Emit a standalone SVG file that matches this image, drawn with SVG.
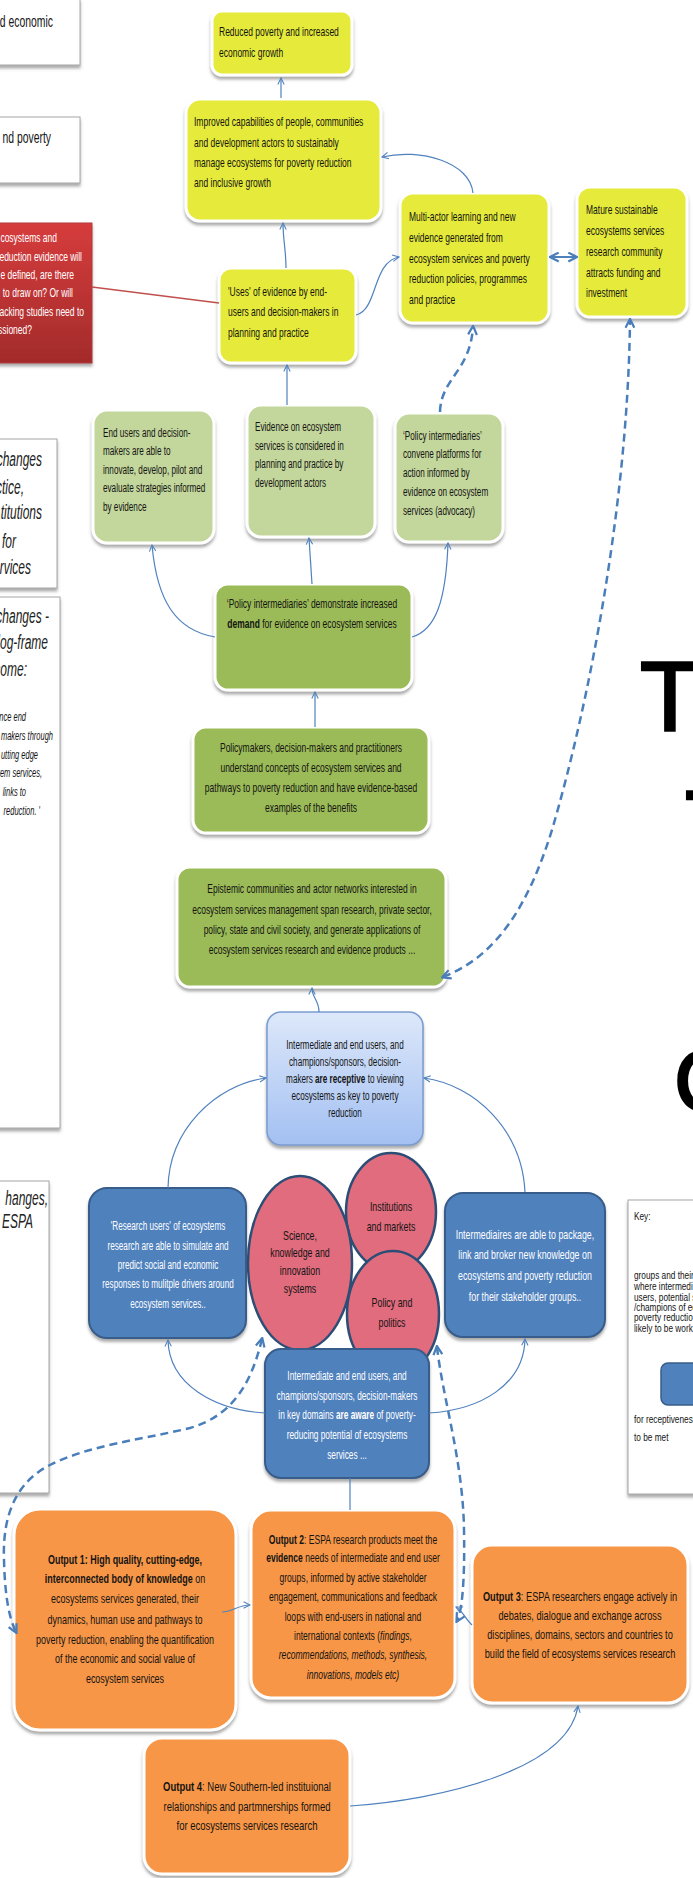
<svg xmlns="http://www.w3.org/2000/svg" width="693" height="1878" viewBox="0 0 693 1878">
<defs>
<style>
.tx{font-family:"Liberation Sans",Arial,sans-serif;font-size:12.5px;fill:#141414}
.sm{font-size:12px}
.w{fill:#fff}
.b{font-weight:bold}
.i{font-style:italic}
.c{text-anchor:middle}
.e{text-anchor:end}
.lg{font-size:20px;font-style:italic;fill:#222}
.big{font-family:"Liberation Sans",Arial,sans-serif;fill:#000;stroke:#000;stroke-width:2.5}
.ny{fill:#e6eb3b;stroke:#fff;stroke-width:3;filter:url(#sh)}
.ng1{fill:#c3d69b;stroke:#fff;stroke-width:3;filter:url(#sh)}
.ng2{fill:#9bbb59;stroke:#fff;stroke-width:3;filter:url(#sh)}
.no{fill:#f79646;stroke:#fff;stroke-width:3;filter:url(#sh)}
.nb{fill:#4f81bd;stroke:#385d8a;stroke-width:2;filter:url(#sh)}
.el{fill:#e06c7d;stroke:#2c4d75;stroke-width:2.5}
.bx{fill:#fff;stroke:#a6a6a6;stroke-width:1;filter:url(#sh)}
.cn{fill:none;stroke:#4f81bd;stroke-width:1.2}
.cd{fill:none;stroke:#4a7ebb;stroke-width:2.5;stroke-dasharray:8 5}
</style>
<filter id="sh" x="-10%" y="-10%" width="125%" height="130%"><feDropShadow dx="0" dy="3" stdDeviation="1.5" flood-color="#666" flood-opacity="0.55"/></filter>
<linearGradient id="gRed" x1="0" y1="0" x2="0" y2="1"><stop offset="0" stop-color="#d63c3c"/><stop offset="1" stop-color="#a32b2b"/></linearGradient>
<linearGradient id="gLb" x1="0" y1="0" x2="0" y2="1"><stop offset="0" stop-color="#dde8fa"/><stop offset="1" stop-color="#a3c0f2"/></linearGradient>
<marker id="ar" viewBox="0 0 10 10" refX="9" refY="5" markerWidth="8" markerHeight="8" markerUnits="userSpaceOnUse" orient="auto-start-reverse"><path d="M1,1 L9,5 L1,9" fill="none" stroke="#4f81bd" stroke-width="1.3"/></marker>
<marker id="ad" viewBox="0 0 10 10" refX="8" refY="5" markerWidth="11" markerHeight="11" markerUnits="userSpaceOnUse" orient="auto-start-reverse"><path d="M1,1 L9,5 L1,9" fill="none" stroke="#4a7ebb" stroke-width="2"/></marker>
</defs>
<rect x="0" y="0" width="693" height="1878" fill="#fff"/>

<!-- left cut-off boxes -->
<g id="box-a"><rect class="bx" x="-2" y="-1" width="82" height="66"/><text class="tx e" style="font-size:16px" transform="translate(53 0) scale(.65 1)"><tspan x="0" y="27">d economic</tspan></text></g>
<g id="box-b"><rect class="bx" x="-2" y="117" width="82" height="66"/><text class="tx e" style="font-size:16px" transform="translate(51 0) scale(.65 1)"><tspan x="0" y="143">nd poverty</tspan></text></g>
<g id="box-1"><rect class="bx" x="-2" y="439" width="59" height="149"/>
<text class="tx lg e" transform="translate(42 0) scale(.6 1)"><tspan x="0" y="466">changes</tspan></text>
<text class="tx lg e" transform="translate(24 0) scale(.6 1)"><tspan x="0" y="494">ctice,</tspan></text>
<text class="tx lg e" transform="translate(42 0) scale(.6 1)"><tspan x="0" y="519">titutions</tspan></text>
<text class="tx lg e" transform="translate(16 0) scale(.6 1)"><tspan x="0" y="548">for</tspan></text>
<text class="tx lg e" transform="translate(31 0) scale(.6 1)"><tspan x="0" y="574">rvices</tspan></text>
</g>
<g id="box-2"><rect class="bx" x="-2" y="597" width="62" height="531"/>
<text class="tx lg e" transform="translate(49 0) scale(.6 1)"><tspan x="0" y="623">changes -</tspan></text>
<text class="tx lg e" transform="translate(48 0) scale(.6 1)"><tspan x="0" y="649">log-frame</tspan></text>
<text class="tx lg e" transform="translate(27 0) scale(.6 1)"><tspan x="0" y="676">come:</tspan></text>
<text class="tx i e" transform="translate(26 0) scale(.6 1)"><tspan x="0" y="721">nce end</tspan></text>
<text class="tx i e" transform="translate(53 0) scale(.6 1)"><tspan x="0" y="740">makers through</tspan></text>
<text class="tx i e" transform="translate(38 0) scale(.6 1)"><tspan x="0" y="759">utting edge</tspan></text>
<text class="tx i e" transform="translate(42 0) scale(.6 1)"><tspan x="0" y="777">tem services,</tspan></text>
<text class="tx i e" transform="translate(26 0) scale(.6 1)"><tspan x="0" y="796">links to</tspan></text>
<text class="tx i e" transform="translate(40 0) scale(.6 1)"><tspan x="0" y="815">reduction. '</tspan></text>
</g>
<g id="box-3"><rect class="bx" x="-2" y="1181" width="51" height="312"/>
<text class="tx lg e" transform="translate(48 0) scale(.6 1)"><tspan x="0" y="1205">hanges,</tspan></text>
<text class="tx lg e" transform="translate(33 0) scale(.6 1)"><tspan x="0" y="1228">y ESPA</tspan></text>
</g>

<!-- key -->
<g id="key"><rect class="bx" x="628" y="1200" width="72" height="294"/>
<text class="tx" style="font-size:10.6px" transform="translate(634 0) scale(.78 1)"><tspan x="0" y="1220">Key:</tspan><tspan x="0" y="1279">groups and their</tspan><tspan x="0" y="1290">where intermedi</tspan><tspan x="0" y="1301">users, potential s</tspan><tspan x="0" y="1311">/champions of ec</tspan><tspan x="0" y="1321">poverty reductio</tspan><tspan x="0" y="1332">likely to be work</tspan><tspan x="0" y="1423">for receptiveness</tspan><tspan x="0" y="1441">to be met</tspan></text>
<rect x="661" y="1363" width="45" height="42" rx="7" fill="#4f81bd" stroke="#385d8a" stroke-width="1.5"/>
</g>

<!-- big letters -->
<g id="big-letters">
<text class="big" x="670" y="730" style="font-size:98px;text-anchor:middle">T</text>
<text class="big" x="715" y="859" style="font-size:98px;text-anchor:middle">T</text>
<text class="big" x="674" y="1111" style="font-size:88px">C</text>
</g>

<!-- yellow -->
<g id="n-reduced"><rect class="ny" x="212" y="11" width="140" height="64" rx="10"/><text class="tx" transform="translate(219 0) scale(.68 1)"><tspan x="0" y="36">Reduced poverty and increased</tspan><tspan x="0" y="57">economic growth</tspan></text></g>
<g id="n-improved"><rect class="ny" x="186" y="99" width="195" height="122" rx="14"/><text class="tx" transform="translate(194 0) scale(.68 1)"><tspan x="0" y="126">Improved capabilities of people, communities</tspan><tspan x="0" y="147">and development actors to sustainably</tspan><tspan x="0" y="167">manage ecosystems for poverty reduction</tspan><tspan x="0" y="187">and inclusive growth</tspan></text></g>
<g id="n-uses"><rect class="ny" x="219" y="268" width="137" height="95" rx="12"/><text class="tx" transform="translate(228 0) scale(.68 1)"><tspan x="0" y="296">'Uses' of evidence by end-</tspan><tspan x="0" y="316">users and decision-makers in</tspan><tspan x="0" y="337">planning and practice</tspan></text></g>
<g id="n-multi"><rect class="ny" x="400" y="193" width="149" height="130" rx="13"/><text class="tx" transform="translate(409 0) scale(.68 1)"><tspan x="0" y="221">Multi-actor learning and new</tspan><tspan x="0" y="242">evidence generated from</tspan><tspan x="0" y="263">ecosystem services and poverty</tspan><tspan x="0" y="283">reduction policies, programmes</tspan><tspan x="0" y="304">and practice</tspan></text></g>
<g id="n-mature"><rect class="ny" x="577" y="187" width="110" height="130" rx="13"/><text class="tx" transform="translate(586 0) scale(.68 1)"><tspan x="0" y="214">Mature sustainable</tspan><tspan x="0" y="235">ecosystems services</tspan><tspan x="0" y="256">research community</tspan><tspan x="0" y="277">attracts funding and</tspan><tspan x="0" y="297">investment</tspan></text></g>

<!-- red -->
<g id="n-red"><rect x="-6" y="223" width="98" height="140" fill="url(#gRed)" stroke="#b23a3a" stroke-width="1" filter="url(#sh)"/>
<text class="tx w e" transform="translate(57 0) scale(.68 1)"><tspan x="0" y="242">cosystems and</tspan></text>
<text class="tx w e" transform="translate(82 0) scale(.68 1)"><tspan x="0" y="261">eduction evidence will</tspan></text>
<text class="tx w e" transform="translate(74 0) scale(.68 1)"><tspan x="0" y="279">e defined, are there</tspan></text>
<text class="tx w e" transform="translate(73 0) scale(.68 1)"><tspan x="0" y="297">to draw on? Or will</tspan></text>
<text class="tx w e" transform="translate(84 0) scale(.68 1)"><tspan x="0" y="316">acking studies need to</tspan></text>
<text class="tx w e" transform="translate(32 0) scale(.68 1)"><tspan x="0" y="334">ssioned?</tspan></text>
</g>

<!-- light green -->
<g id="n-endusers"><rect class="ng1" x="93" y="410" width="121" height="133" rx="14"/><text class="tx sm" transform="translate(103 0) scale(.68 1)"><tspan x="0" y="437">End users and decision-</tspan><tspan x="0" y="455">makers  are able to</tspan><tspan x="0" y="474">innovate, develop, pilot and</tspan><tspan x="0" y="492">evaluate strategies informed</tspan><tspan x="0" y="511">by evidence</tspan></text></g>
<g id="n-evidence"><rect class="ng1" x="247" y="405" width="128" height="132" rx="14"/><text class="tx sm" transform="translate(255 0) scale(.68 1)"><tspan x="0" y="431">Evidence on ecosystem</tspan><tspan x="0" y="450">services is considered in</tspan><tspan x="0" y="468">planning and practice by</tspan><tspan x="0" y="487">development actors</tspan></text></g>
<g id="n-convene"><rect class="ng1" x="395" y="413" width="108" height="129" rx="14"/><text class="tx sm" transform="translate(403 0) scale(.68 1)"><tspan x="0" y="440">‘Policy intermediaries’</tspan><tspan x="0" y="458">convene platforms for</tspan><tspan x="0" y="477">action informed by</tspan><tspan x="0" y="496">evidence on ecosystem</tspan><tspan x="0" y="515">services (advocacy)</tspan></text></g>

<!-- dark green -->
<g id="n-demand"><rect class="ng2" x="215" y="584" width="197" height="106" rx="13"/><text class="tx c" transform="translate(312 0) scale(.68 1)"><tspan x="0" y="608">‘Policy intermediaries’ demonstrate increased</tspan><tspan x="0" y="628"><tspan class="b">demand</tspan> for evidence on ecosystem services</tspan></text></g>
<g id="n-policymakers"><rect class="ng2" x="193" y="727" width="236" height="106" rx="13"/><text class="tx c" transform="translate(311 0) scale(.68 1)"><tspan x="0" y="752">Policymakers, decision-makers and practitioners</tspan><tspan x="0" y="772">understand concepts of ecosystem services and</tspan><tspan x="0" y="792">pathways to poverty reduction and have evidence-based</tspan><tspan x="0" y="812">examples of the benefits</tspan></text></g>
<g id="n-epistemic"><rect class="ng2" x="177" y="867" width="269" height="120" rx="13"/><text class="tx c" transform="translate(312 0) scale(.68 1)"><tspan x="0" y="893">Epistemic communities and actor networks interested in</tspan><tspan x="0" y="914">ecosystem services  management span research, private sector,</tspan><tspan x="0" y="934">policy, state and civil society, and generate applications of</tspan><tspan x="0" y="954">ecosystem services research and evidence products ...</tspan></text></g>

<!-- light blue -->
<g id="n-receptive"><rect x="267" y="1012" width="156" height="133" rx="14" fill="url(#gLb)" stroke="#7a9cd0" stroke-width="1.5" filter="url(#sh)"/><text class="tx c" style="font-size:12px" transform="translate(345 0) scale(.68 1)"><tspan x="0" y="1049">Intermediate and end users, and</tspan><tspan x="0" y="1066">champions/sponsors, decision-</tspan><tspan x="0" y="1083">makers <tspan class="b">are receptive</tspan> to viewing</tspan><tspan x="0" y="1100">ecosystems as key to poverty</tspan><tspan x="0" y="1117">reduction</tspan></text></g>

<!-- blue -->
<g id="n-research"><rect class="nb" x="89" y="1188" width="157" height="150" rx="18"/><text class="tx w c" style="font-size:12px" transform="translate(168 0) scale(.68 1)"><tspan x="0" y="1230">'Research users' of ecosystems</tspan><tspan x="0" y="1250">research are able to simulate and</tspan><tspan x="0" y="1269">predict social and economic</tspan><tspan x="0" y="1288">responses to mulitple drivers around</tspan><tspan x="0" y="1308">ecosystem services..</tspan></text></g>
<g id="n-intermediaires"><rect class="nb" x="445" y="1193" width="160" height="144" rx="18"/><text class="tx w c" style="font-size:13px" transform="translate(525 0) scale(.68 1)"><tspan x="0" y="1239">Intermediaires are able to package,</tspan><tspan x="0" y="1259">link and broker new knowledge on</tspan><tspan x="0" y="1280">ecosystems and poverty reduction</tspan><tspan x="0" y="1301">for their stakeholder groups..</tspan></text></g>

<!-- ellipses -->
<g id="n-institutions"><ellipse class="el" cx="391" cy="1212" rx="45" ry="59"/><text class="tx c" style="font-size:13px" transform="translate(391 0) scale(.68 1)"><tspan x="0" y="1211">Institutions</tspan><tspan x="0" y="1231">and markets</tspan></text></g>
<g id="n-policy"><ellipse class="el" cx="393" cy="1314" rx="46" ry="63"/><text class="tx c" style="font-size:13px" transform="translate(392 0) scale(.68 1)"><tspan x="0" y="1307">Policy and</tspan><tspan x="0" y="1327">politics</tspan></text></g>
<g id="n-science"><ellipse class="el" cx="300" cy="1263" rx="52" ry="87"/><text class="tx c" style="font-size:13px" transform="translate(300 0) scale(.68 1)"><tspan x="0" y="1240">Science,</tspan><tspan x="0" y="1257">knowledge and</tspan><tspan x="0" y="1275">innovation</tspan><tspan x="0" y="1293">systems</tspan></text></g>

<g id="n-aware"><rect class="nb" x="265" y="1349" width="164" height="129" rx="16"/><text class="tx w c" style="font-size:12.2px" transform="translate(347 0) scale(.68 1)"><tspan x="0" y="1380">Intermediate  and end users, and</tspan><tspan x="0" y="1400">champions/sponsors, decision-makers</tspan><tspan x="0" y="1419">in key domains <tspan class="b">are aware</tspan>  of poverty-</tspan><tspan x="0" y="1439">reducing potential of ecosystems</tspan><tspan x="0" y="1459">services ...</tspan></text></g>

<!-- orange -->
<g id="n-out1"><rect class="no" x="14" y="1509" width="222" height="221" rx="26"/><text class="tx c" style="font-size:13px" transform="translate(125 0) scale(.69 1)"><tspan x="0" y="1564" class="b">Output 1: High quality, cutting-edge,</tspan><tspan x="0" y="1583"><tspan class="b">interconnected body of knowledge</tspan> on</tspan><tspan x="0" y="1603">ecosystems services generated, their</tspan><tspan x="0" y="1624">dynamics, human use and  pathways to</tspan><tspan x="0" y="1644">poverty reduction, enabling the quantification</tspan><tspan x="0" y="1663">of the economic and social value of</tspan><tspan x="0" y="1683">ecosystem services</tspan></text></g>
<g id="n-out2"><rect class="no" x="251" y="1510" width="204" height="188" rx="20"/><text class="tx c" style="font-size:12.6px" transform="translate(353 0) scale(.68 1)"><tspan x="0" y="1544"><tspan class="b">Output 2</tspan>: ESPA research products meet the</tspan><tspan x="0" y="1562"><tspan class="b">evidence</tspan> needs of intermediate and end user</tspan><tspan x="0" y="1582">groups, informed by active stakeholder</tspan><tspan x="0" y="1601">engagement, communications and feedback</tspan><tspan x="0" y="1621">loops with end-users in national and</tspan><tspan x="0" y="1640">international contexts (<tspan class="i">findings,</tspan></tspan><tspan x="0" y="1659" class="i">recommendations, methods, synthesis,</tspan><tspan x="0" y="1679" class="i">innovations, models etc)</tspan></text></g>
<g id="n-out3"><rect class="no" x="472" y="1545" width="216" height="158" rx="20"/><text class="tx c" style="font-size:13px" transform="translate(580 0) scale(.71 1)"><tspan x="0" y="1601"><tspan class="b">Output 3</tspan>: ESPA researchers engage actively in</tspan><tspan x="0" y="1620">debates, dialogue and exchange across</tspan><tspan x="0" y="1639">disciplines, domains, sectors and countries to</tspan><tspan x="0" y="1658">build the field of ecosystems services research</tspan></text></g>
<g id="n-out4"><rect class="no" x="144" y="1738" width="206" height="136" rx="18"/><text class="tx c" style="font-size:13.2px" transform="translate(247 0) scale(.72 1)"><tspan x="0" y="1791"><tspan class="b">Output 4</tspan>: New Southern-led instituional</tspan><tspan x="0" y="1811">relationships and partmnerships formed</tspan><tspan x="0" y="1830">for ecosystems services research</tspan></text></g>

<!-- connectors -->
<g id="connectors">
<path class="cn" d="M281 98 L281 78" marker-end="url(#ar)"/>
<path class="cn" d="M286 268 C286 250 283 240 283 223" marker-end="url(#ar)"/>
<path class="cn" d="M356 315 C378 310 372 262 399 257" marker-end="url(#ar)"/>
<path class="cn" d="M473 193 C470 162 420 148 382 157" marker-end="url(#ar)"/>
<path class="cn" style="stroke-width:2" d="M551 257 L576 257" marker-start="url(#ad)" marker-end="url(#ad)"/>
<path d="M92 287 L219 303" fill="none" stroke="#c0504d" stroke-width="1.5"/>
<path class="cd" d="M440 412 C441 378 470 372 473 327" marker-end="url(#ad)"/>
<path class="cd" d="M443 977 C500 955 530 900 552 830 C590 700 628 500 630 320" marker-start="url(#ad)" marker-end="url(#ad)"/>
<path class="cn" d="M287 405 L287 365" marker-end="url(#ar)"/>
<path class="cn" d="M215 637 C175 630 157 600 152 545" marker-end="url(#ar)"/>
<path class="cn" d="M312 584 L309 538" marker-end="url(#ar)"/>
<path class="cn" d="M412 637 C436 630 446 600 448 543" marker-end="url(#ar)"/>
<path class="cn" d="M315 727 L315 692" marker-end="url(#ar)"/>
<path class="cn" d="M319 1012 C319 1000 312 998 312 988" marker-end="url(#ar)"/>
<path class="cn" d="M168 1188 C169 1130 215 1085 266 1078" marker-end="url(#ar)"/>
<path class="cn" d="M525 1192 C522 1130 475 1085 424 1078" marker-end="url(#ar)"/>
<path class="cn" d="M265 1413 C215 1410 169 1385 168 1340" marker-end="url(#ar)"/>
<path class="cn" d="M429 1413 C480 1410 524 1385 525 1339" marker-end="url(#ar)"/>
<path class="cd" d="M262 1339 C252 1380 235 1415 190 1428 C140 1440 90 1445 50 1465 C20 1480 2 1510 4 1560 C5 1600 10 1620 16 1632" marker-start="url(#ad)" marker-end="url(#ad)"/>
<path class="cd" d="M437 1347 C443 1400 463 1460 464 1530 C465 1580 462 1612 457 1621" marker-start="url(#ad)" marker-end="url(#ad)"/>
<path class="cn" d="M472 1625 C466 1620 462 1610 456 1607" marker-end="url(#ar)"/>
<path class="cn" d="M222 1612 C232 1612 238 1605 250 1605" marker-end="url(#ar)"/>
<path class="cn" d="M350 1478 L350 1510"/>
<path class="cn" d="M350 1806 C440 1800 568 1770 578 1706" marker-end="url(#ar)"/>
</g>
</svg>
